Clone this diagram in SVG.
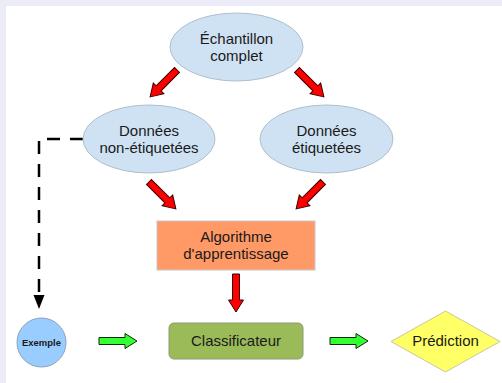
<svg xmlns="http://www.w3.org/2000/svg" width="502" height="383" viewBox="0 0 502 383">
<defs>
<style>
.t{font-family:"Liberation Sans",Arial,sans-serif;font-size:15px;fill:#1a1a1a;text-anchor:middle}
.ell{fill:#cfe2f3;stroke:#aebfcc;stroke-width:1}
.red{fill:#ff0000;stroke:#3a0000;stroke-width:1;stroke-linejoin:miter}
.green{fill:#33ff33;stroke:#0a2a0a;stroke-width:1}
</style>
<path id="blk" d="M0,-3.5 L26,-3.5 L26,-7.5 L38,0 L26,7.5 L26,3.5 L0,3.5 Z"/>
</defs>
<rect x="0" y="0" width="502" height="383" fill="#ececf8"/>
<rect x="6" y="6" width="496" height="377" fill="#ffffff"/>

<g id="connectors">
<use href="#blk" class="red" transform="translate(177,70) rotate(135)"/>
<use href="#blk" class="red" transform="translate(297,70) rotate(45)"/>
<use href="#blk" class="red" transform="translate(149,182) rotate(45)"/>
<use href="#blk" class="red" transform="translate(323,182) rotate(135)"/>
<use href="#blk" class="red" transform="translate(236,274) rotate(90)"/>
<use href="#blk" class="green" transform="translate(99,341)"/>
<use href="#blk" class="green" transform="translate(330,341)"/>
<path d="M83,139 H39 V296" fill="none" stroke="#000" stroke-width="2.5" stroke-dasharray="13,10"/>
<polygon points="33.5,295 44.5,295 39,309" fill="#000"/>
</g>

<g id="echantillon">
<ellipse class="ell" cx="236.5" cy="47" rx="66.5" ry="34"/>
<text class="t" x="236.5" y="44">Échantillon</text>
<text class="t" x="236.5" y="61">complet</text>
</g>
<g id="non-etiquetees">
<ellipse class="ell" cx="149" cy="139" rx="66" ry="34"/>
<text class="t" x="149" y="136">Données</text>
<text class="t" x="149" y="153">non-étiquetées</text>
</g>
<g id="etiquetees">
<ellipse class="ell" cx="326.5" cy="139" rx="66.5" ry="34"/>
<text class="t" x="326.5" y="136">Données</text>
<text class="t" x="326.5" y="153">étiquetées</text>
</g>
<g id="algorithme">
<rect x="157" y="221" width="158" height="49" fill="#ff9966" stroke="#c8c8c8" stroke-width="1"/>
<text class="t" x="236" y="242">Algorithme</text>
<text class="t" x="236" y="259">d'apprentissage</text>
</g>
<g id="exemple">
<circle cx="41.5" cy="342.5" r="24.5" fill="#99ccff" stroke="#8aa4bf" stroke-width="1"/>
<text x="41.5" y="346" style="font-family:'Liberation Sans',Arial,sans-serif;font-size:9.5px;font-weight:bold;fill:#1a1a1a;text-anchor:middle">Exemple</text>
</g>
<g id="classificateur">
<rect x="169" y="323" width="134" height="36" rx="5" fill="#9bbb59" stroke="#8c9c78" stroke-width="1"/>
<text class="t" x="236" y="346">Classificateur</text>
</g>
<g id="prediction">
<polygon points="391,341.5 445.5,311 500,341.5 445.5,372" fill="#ffff66" stroke="#c8c8a0" stroke-width="1"/>
<text class="t" x="445.5" y="346">Prédiction</text>
</g>
</svg>
